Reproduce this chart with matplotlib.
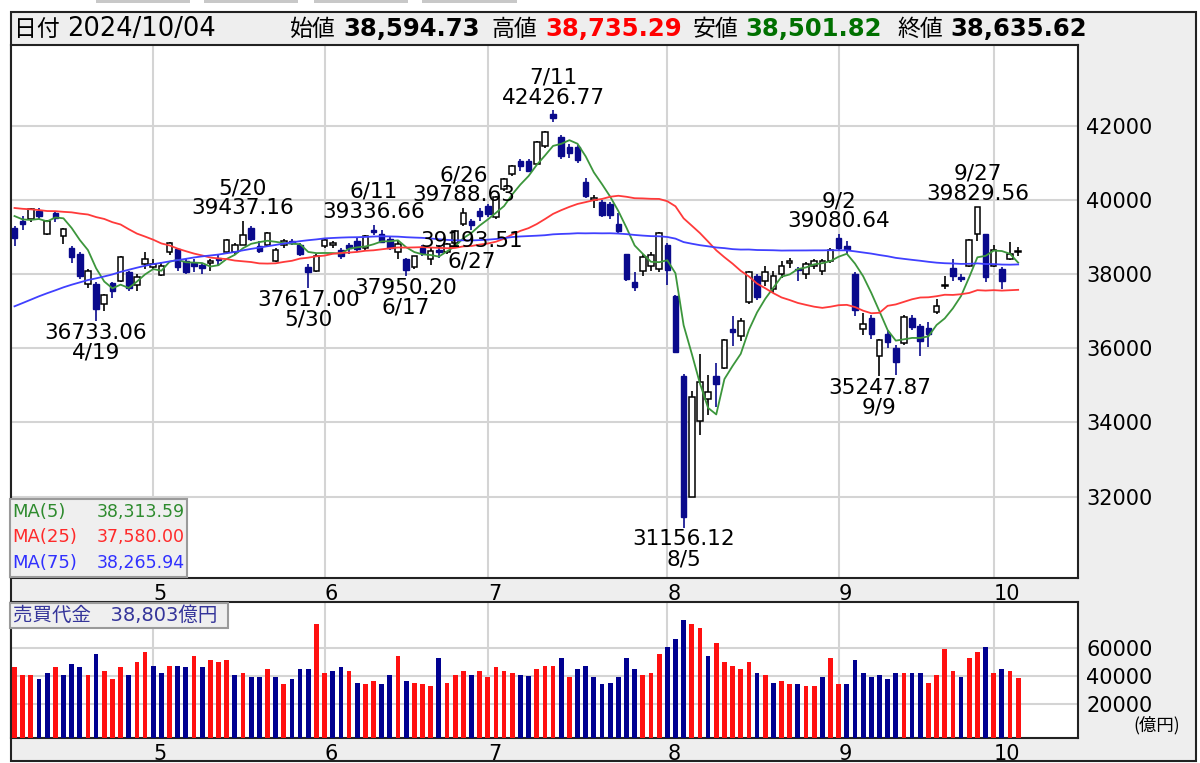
import numpy as np
import pandas as pd
import matplotlib
matplotlib.use("Agg")
import matplotlib.pyplot as plt
from matplotlib.patches import Rectangle

W, H = 1200, 763


def fx(x):
    return x / W


def fy(y):
    return 1 - y / H


JP = ['Noto Sans CJK JP', 'DejaVu Sans']
MIX = ['DejaVu Sans', 'Noto Sans CJK JP']
plt.rcParams['font.family'] = MIX

# ---------------- data ----------------
holidays = ['2024-04-29', '2024-05-03', '2024-05-06', '2024-07-15',
            '2024-08-12', '2024-09-16', '2024-09-23']
dates = pd.bdate_range('2024-04-05', '2024-10-04', freq='C', holidays=holidays)

# closes before the window (2023-12-14 .. 2024-04-04), only to start the MAs
warmup_close = [
    32686.25, 32970.55, 32758.98, 33219.39, 33675.94, 33140.47, 33169.05, 33254.03,
    33305.85, 33681.24, 33539.62, 33464.17,
    33288.29, 33377.42, 33763.18, 34441.72, 35049.86, 35577.11, 35901.79, 35619.18,
    35477.75, 35466.17, 35963.27, 36546.95, 36517.57, 36226.48, 36236.47, 35751.07,
    36026.94, 36065.86, 36286.71,
    36011.46, 36158.02, 36354.16, 36160.66, 36119.92, 36863.28, 36897.42, 37963.97,
    37703.32, 38157.94, 38487.24, 38470.38, 38363.61, 38262.16, 39098.68, 39233.71,
    39239.52, 39208.03, 39166.19,
    39910.82, 40109.23, 40097.63, 40090.78, 39598.71, 39688.94, 38820.49, 38797.51,
    38695.97, 38807.38, 38707.64, 39740.44, 40003.60, 40815.66, 40888.43, 40414.12,
    40398.03, 40762.73, 40168.07, 40369.44,
    39803.09, 39838.91, 39451.85, 39773.14,
]

open_ = [
    39240, 39430, 39480, 39720, 39100, 39650, 39040, 38720, 38560, 37730,
    37740, 37190, 37770, 37830, 38050, 37700, 38270,
    38200, 37990, 38600, 38670, 38350, 38300, 38250, 38300, 38450, 38600,
    38600, 38800, 39260, 38760, 38780, 38360, 38780, 38900, 38800, 38200, 38100,
    38760, 38800, 38650, 38800, 38900, 38720, 39200, 39100, 38950, 38600,
    38400, 38200, 38700, 38420, 38650, 38600, 38850, 39350, 39450, 39700,
    39850, 39540, 40300, 40700, 41050, 41050, 40980, 41450, 42330, 41700,
    41430, 41430, 40500, 40000, 39940, 39900, 39350, 38540, 37780, 38100,
    38230, 38140,
    38800, 37400, 35250, 32000, 34030, 34620, 35250, 35480, 36510, 36330,
    37240, 37950, 37830, 37600, 38000, 38300, 38150, 38000, 38230, 38100, 38370,
    38990, 38770, 38000, 36520, 36830, 35790, 36380, 36010, 36150, 36830,
    36600, 36560, 36970, 37680, 38180, 37930, 38230, 39083, 39080,
    38230, 38130, 38410, 38594.73,
]
high = [
    39290, 39560, 39800, 39780, 39460, 39700, 39260, 38750, 38600, 38150,
    37800, 37480, 37800, 38480, 38080, 38000, 38590,
    38400, 38330, 38863, 38700, 38400, 38400, 38300, 38400, 38550, 38950,
    38850, 39437.16, 39300, 38900, 39130, 38700, 38950, 38950, 38850, 38280, 38550,
    38950, 38900, 38700, 38850, 39000, 39050, 39336.66, 39200, 39000, 38900,
    38450, 38500, 38780, 38700, 38800, 38850, 39200, 39788.63, 39500, 39790,
    39900, 40100, 40600, 40950, 41100, 41100, 41600, 41880, 42426.77, 41750,
    41520, 41500, 40600, 40150, 40000, 39950, 39650, 38560, 38050, 38550,
    38600, 39150,
    38850, 37450, 35300, 34840, 35850, 35290, 35610, 36250, 36870, 36820,
    38100, 38000, 38230, 38100, 38360, 38450, 38200, 38320, 38420, 38400, 38700,
    39080.64, 38900, 38050, 36960, 36900, 36250, 36500, 36100, 36900, 36900,
    36650, 36700, 37330, 37950, 38400, 38000, 38950, 39829.56, 39100,
    38800, 38200, 38860, 38735.29,
]
low = [
    38774, 39200, 39420, 39500, 39060, 39420, 38812, 38300, 37880, 37640,
    36733.06, 37010, 37370, 37800, 37550, 37550, 38140,
    38150, 37950, 38510, 38100, 38000, 38050, 38000, 38100, 38250, 38560,
    38550, 38780, 38900, 38580, 38740, 38320, 38700, 38800, 38500, 37617.00, 38060,
    38720, 38700, 38400, 38560, 38600, 38650, 39050, 38850, 38650, 38400,
    37950.20, 38150, 38480, 38250, 38450, 38550, 38800, 39300, 39193.51, 39450,
    39550, 39500, 40250, 40650, 40800, 40750, 40950, 41400, 42100, 41100,
    41150, 41000, 40050, 39800, 39550, 39500, 39080, 37830, 37550, 37950,
    38100, 38050,
    37700, 35880, 31156.12, 31980, 33660, 34210, 34430, 35450, 36060, 36200,
    37200, 37300, 37680, 37500, 37900, 38180, 37830, 37870, 38150, 37980, 38300,
    38650, 38550, 36870, 36370, 36250, 35247.87, 36000, 35290, 36100, 36500,
    35800, 36050, 36920, 37600, 37820, 37800, 38200, 38900, 37780,
    38200, 37590, 38380, 38501.82,
]
close = [
    38992.08, 39347.04, 39773.13, 39581.81, 39442.63, 39523.55, 39232.80, 38471.20,
    37961.80, 38079.70, 37068.35, 37438.61, 37552.16, 38460.08, 37628.48, 37934.76,
    38405.66,
    38274.05, 38236.07, 38835.10, 38202.37, 38073.98, 38229.11, 38179.46, 38356.06,
    38385.73, 38920.26, 38787.38, 39069.68, 38946.93, 38617.10, 39103.22, 38646.11,
    38900.02, 38855.37, 38556.87, 38054.13, 38487.90,
    38923.03, 38837.46, 38490.17, 38703.51, 38683.93, 39038.16, 39134.79, 38876.71,
    38720.47, 38814.56, 38102.44, 38482.11, 38570.76, 38633.02, 38596.47, 38804.65,
    39173.15, 39667.07, 39341.54, 39583.08,
    39631.06, 40074.69, 40580.76, 40913.65, 40912.37, 40780.70, 41580.17, 41831.99,
    42224.02, 41190.68, 41275.08, 41097.69, 40126.35, 40063.79, 39599.00, 39594.39,
    39154.85, 37869.51, 37667.41, 38468.63, 38525.95, 39101.82,
    38126.33, 35909.70, 31458.42, 34675.46, 35089.62, 34831.15, 35025.00, 36232.51,
    36442.43, 36726.64, 38062.67, 37388.62, 38062.92, 37951.80, 38211.01, 38364.27,
    38110.22, 38288.62, 38371.76, 38362.53, 38647.75,
    38700.87, 38686.31, 37047.61, 36657.09, 36391.47, 36215.75, 36159.16, 35619.77,
    36833.27, 36581.76, 36203.22, 36380.17, 37155.33, 37723.91, 37940.59, 37870.26,
    38925.63, 39829.56, 37919.55,
    38651.97, 37808.76, 38552.06, 38635.62,
]
# 売買代金 (億円)
turnover = [
    46120, 40640, 40640, 37990, 41800, 46120, 40640, 48780, 46120, 40640,
    55470, 43240, 37990, 46120, 40640, 50210, 56910,
    47340, 41800, 47340, 47340, 46120, 54310, 46120, 51430, 50210, 51430,
    40640, 41800, 39200, 39200, 44680, 39200, 33880, 37990, 44680, 44680, 77330,
    41800, 43240, 46120, 43240, 35110, 33880, 36550, 33880, 40640, 54310,
    36550, 35110, 33880, 32450, 52870, 35110, 40640, 43240, 40640, 43240,
    39200, 46120, 43240, 41800, 40640, 39640, 44680, 47340, 47340, 52870,
    39420, 44680, 47340, 39420, 33880, 35110, 39420, 52870, 44680, 40640,
    41800, 55470,
    60790, 66260, 79920, 77330, 74460, 54310, 63670, 50000, 47340, 44680,
    50000, 41800, 40640, 35110, 36550, 33880, 33880, 32450, 32450, 39200, 52870,
    33880, 33880, 51430, 41800, 39420, 40640, 37770, 41800, 41800, 41800,
    41800, 35110, 40640, 59570, 43240, 39420, 52870, 56910, 60790,
    41800, 44680, 43240, 38803,
]

marked_highs = ['2024-05-20', '2024-06-11', '2024-06-26', '2024-07-11', '2024-09-02', '2024-09-27']
marked_lows = ['2024-04-19', '2024-05-30', '2024-06-17', '2024-06-27', '2024-08-05', '2024-09-09']
ma_spans = [5, 25, 75]
ma_colors = {5: '#3c963c', 25: '#ff3a3a', 75: '#4040ff'}
ma_text_colors = {5: '#2e8b2e', 25: '#ff2a2a', 75: '#3030ff'}
price_ticks = [32000, 34000, 36000, 38000, 40000, 42000]
vol_ticks = [20000, 40000, 60000]

# ---------------- prep ----------------
o = np.array(open_, float)
h = np.array(high, float)
l = np.array(low, float)
c = np.array(close, float)
v = np.array(turnover, float)
n = len(c)
xi = np.arange(n)

allc = pd.Series(np.concatenate([warmup_close, c]))
ma = {s: allc.rolling(s).mean().values[len(warmup_close):] for s in ma_spans}

month_idx = np.where(dates.month[1:] != dates.month[:-1])[0] + 1
month_lbl = [str(dates[i].month) for i in month_idx]

NAVY = '#0a0a8c'
up = c >= o

# ---------------- figure ----------------
fig = plt.figure(figsize=(W / 100, H / 100), dpi=100)
fig.patches.append(Rectangle((fx(11), fy(761)), fx(1196) - fx(11), fy(12) - fy(761),
                             transform=fig.transFigure, fc='#eeeeee', ec='#222222',
                             lw=1.5, zorder=-5))
for a, b in [(96, 190), (204, 298), (314, 408), (422, 517)]:
    fig.patches.append(Rectangle((fx(a), fy(3)), fx(b) - fx(a), fy(0) - fy(3),
                                 transform=fig.transFigure, fc='#c8c8c8', ec='none', zorder=-5))

xlim = ((11 - 14.5) / 8.16, (1078 - 14.5) / 8.16)

ax = fig.add_axes([fx(11), fy(578), fx(1078) - fx(11), fy(45) - fy(578)])
ax.set_xlim(*xlim)
ax.set_ylim(29800, 44190)

# wicks + bodies
wick_col = np.where(up, 'black', NAVY)
ax.vlines(xi, l, h, colors=wick_col, lw=1.2, zorder=3)
body_lo = np.minimum(o, c)
body_h = np.maximum(np.abs(c - o), 12)
ax.bar(xi[up], body_h[up], bottom=body_lo[up], width=0.68, color='white',
       edgecolor='black', lw=1.1, zorder=4)
ax.bar(xi[~up], body_h[~up], bottom=body_lo[~up], width=0.68, color=NAVY,
       edgecolor=NAVY, lw=1.0, zorder=4)

for s in ma_spans:
    ax.plot(xi, ma[s], color=ma_colors[s], lw=1.3, zorder=5)

for d in marked_highs:
    i = dates.get_loc(pd.Timestamp(d))
    ax.annotate(f"{dates[i].month}/{dates[i].day}\n{h[i]:.2f}", (i, h[i]),
                xytext=(0, 2), textcoords='offset points', ha='center', va='bottom',
                fontsize=15.5, linespacing=1.0, zorder=6)
for d in marked_lows:
    i = dates.get_loc(pd.Timestamp(d))
    ax.annotate(f"{l[i]:.2f}\n{dates[i].month}/{dates[i].day}", (i, l[i]),
                xytext=(0, -1), textcoords='offset points', ha='center', va='top',
                fontsize=15.5, linespacing=1.0, zorder=6)

ax.set_yticks(price_ticks)
ax.yaxis.tick_right()
ax.tick_params(axis='y', length=0, pad=6, labelsize=15)
ax.set_xticks(month_idx)
ax.set_xticklabels(month_lbl)
ax.tick_params(axis='x', length=0, pad=4, labelsize=15)
for t in ax.get_xticklabels():
    t.set_ha('left')
ax.grid(color='#d4d4d4', lw=1.5)
ax.set_axisbelow(True)
for sp in ax.spines.values():
    sp.set_color('#222222')
    sp.set_linewidth(1.5)

# ---- volume panel ----
vax = fig.add_axes([fx(11), fy(738), fx(1078) - fx(11), fy(602) - fy(738)])
vlo, vhi = -4700, 93100
vax.set_xlim(*xlim)
vax.set_ylim(vlo, vhi)
prev = np.concatenate([[c[0]], c[:-1]])
vcol = np.where(c >= prev, '#ff1010', '#000090')
vax.bar(xi, v - vlo, bottom=vlo, width=0.58, color=vcol, zorder=3)
vax.set_yticks(vol_ticks)
vax.yaxis.tick_right()
vax.tick_params(axis='y', length=0, pad=6, labelsize=15)
vax.set_xticks(month_idx)
vax.set_xticklabels(month_lbl)
vax.tick_params(axis='x', length=0, pad=4, labelsize=15)
for t in vax.get_xticklabels():
    t.set_ha('left')
vax.grid(color='#d4d4d4', lw=1.5)
vax.set_axisbelow(True)
for sp in vax.spines.values():
    sp.set_color('#222222')
    sp.set_linewidth(1.5)
fig.text(fx(1180), fy(725), '(億円)', ha='right', va='center', fontsize=12.5, family=JP)

# ---- header ----
hy = fy(29)
fig.text(fx(14), hy, '日付', ha='left', va='center', fontsize=16.5, family=JP)
fig.text(fx(67), hy, dates[-1].strftime('%Y/%m/%d'), ha='left', va='center',
         fontsize=18.5, family='DejaVu Sans')
items = [('始値', o[-1], 'black', 290, 343), ('高値', h[-1], '#ff0000', 492, 545),
         ('安値', l[-1], '#007000', 693, 745), ('終値', c[-1], 'black', 897, 950)]
for name, val, col, xl, xv in items:
    fig.text(fx(xl), hy, name, ha='left', va='center', fontsize=16.5, family=JP)
    fig.text(fx(xv), hy, f"{val:,.2f}", ha='left', va='center', fontsize=17.5,
             fontweight='bold', color=col, family='DejaVu Sans')

# ---- MA legend box ----
fig.patches.append(Rectangle((fx(10), fy(577)), fx(187) - fx(10), fy(499) - fy(577),
                             transform=fig.transFigure, fc='#efefef', ec='#9a9a9a',
                             lw=1.5, zorder=7))
for k, s in enumerate(ma_spans):
    yy = fy(512 + 25.5 * k)
    fig.text(fx(12), yy, f"MA({s})", ha='left', va='center', fontsize=13,
             color=ma_text_colors[s], zorder=8)
    fig.text(fx(185), yy, f"{ma[s][-1]:,.2f}", ha='right', va='center', fontsize=12.5,
             color=ma_text_colors[s], zorder=8)

# ---- turnover legend ----
fig.patches.append(Rectangle((fx(10), fy(628)), fx(228) - fx(10), fy(603) - fy(628),
                             transform=fig.transFigure, fc='#efefef', ec='#9a9a9a',
                             lw=1.5, zorder=7))
fig.text(fx(13), fy(615), f"売買代金　{v[-1]:,.0f}億円", ha='left', va='center',
         fontsize=14, color='#35359a', family=MIX, zorder=8)

fig.savefig('out.png', dpi=100)
